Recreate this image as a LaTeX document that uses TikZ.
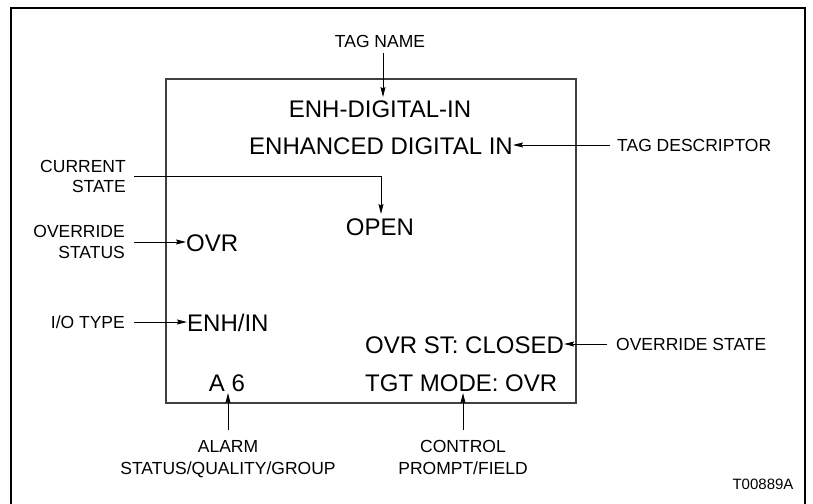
\documentclass[tikz,border=0pt]{standalone}
\usepackage{fontspec}
\setmainfont{Liberation Sans}
\usetikzlibrary{arrows.meta}
\begin{document}
\begin{tikzpicture}[x=1pt,y=-1pt,
  big/.style={inner sep=0pt,font=\fontsize{24}{28}\selectfont},
  small/.style={inner sep=0pt,font=\fontsize{17.5}{21}\selectfont},
  tiny/.style={inner sep=0pt,font=\fontsize{15}{18}\selectfont},
  arr/.style={line width=0.9pt,-{Stealth[length=10pt,width=5pt,inset=1.5pt]}},
  ln/.style={line width=0.9pt}]
\useasboundingbox (0,0) rectangle (813,503);
\clip (0,0) rectangle (813,503);
% outer frame
\draw[line width=1.3pt] (11,520) -- (11,8) -- (805,8) -- (805,520);
% screen box
\draw[line width=1.3pt,black!75] (166,79) rectangle (576,403);
% screen texts
\node[big,anchor=base] (tn) at (380,117) {ENH-DIGITAL-IN};
\node[big,anchor=base] (td) at (381,154) {ENHANCED DIGITAL IN};
\node[big,anchor=base] (op) at (380,235) {OPEN};
\node[big,anchor=base west] (ov) at (186,251) {OVR};
\node[big,anchor=base west] (io) at (187,331) {ENH/IN};
\node[big,anchor=base west] (os) at (365,353) {OVR ST: CLOSED};
\node[big,anchor=base west] (tm) at (365,391) {TGT MODE: OVR};
\node[big,anchor=base] (a6) at (227,391) {A 6};
% labels
\node[small,anchor=base] (ltn) at (380,48) {TAG NAME};
\node[small,anchor=base west] (ltd) at (617,151) {TAG DESCRIPTOR};
\node[small,anchor=base east] (lcs1) at (126,172) {CURRENT};
\node[small,anchor=base east] (lcs2) at (126,192) {STATE};
\node[small,anchor=base east] (los1) at (125,237) {OVERRIDE};
\node[small,anchor=base east] (los2) at (125,258) {STATUS};
\node[small,anchor=base east] (lio) at (125,328) {I/O TYPE};
\node[small,anchor=base west] (lst) at (616,350) {OVERRIDE STATE};
\node[small,anchor=base] (lal1) at (228,452) {ALARM};
\node[small,anchor=base] (lal2) at (228,474) {STATUS/QUALITY/GROUP};
\node[small,anchor=base] (lcp1) at (463,452) {CONTROL};
\node[small,anchor=base] (lcp2) at (463,474) {PROMPT/FIELD};
\node[tiny,anchor=base] (fig) at (763,489) {T00889A};
% connectors
\coordinate (c1) at (383,53);
\draw[arr] (c1) -- (383,97);
\coordinate (c2) at (610,145);
\draw[arr] (c2) -- (td.east |- c2);
\coordinate (c3) at (134,176);
\draw[arr] (c3) -- (381,176) -- (381,214);
\coordinate (c4) at (134,242);
\draw[arr] (c4) -- (ov.west |- c4);
\coordinate (c5) at (134,322);
\draw[arr] (c5) -- (io.west |- c5);
\coordinate (c6) at (607,344);
\draw[arr] (c6) -- (os.east |- c6);
\coordinate (c7) at (228,430);
\draw[arr] (c7) -- (228,393);
\coordinate (c8) at (463,430);
\draw[arr] (c8) -- (463,393);
\end{tikzpicture}
\end{document}
